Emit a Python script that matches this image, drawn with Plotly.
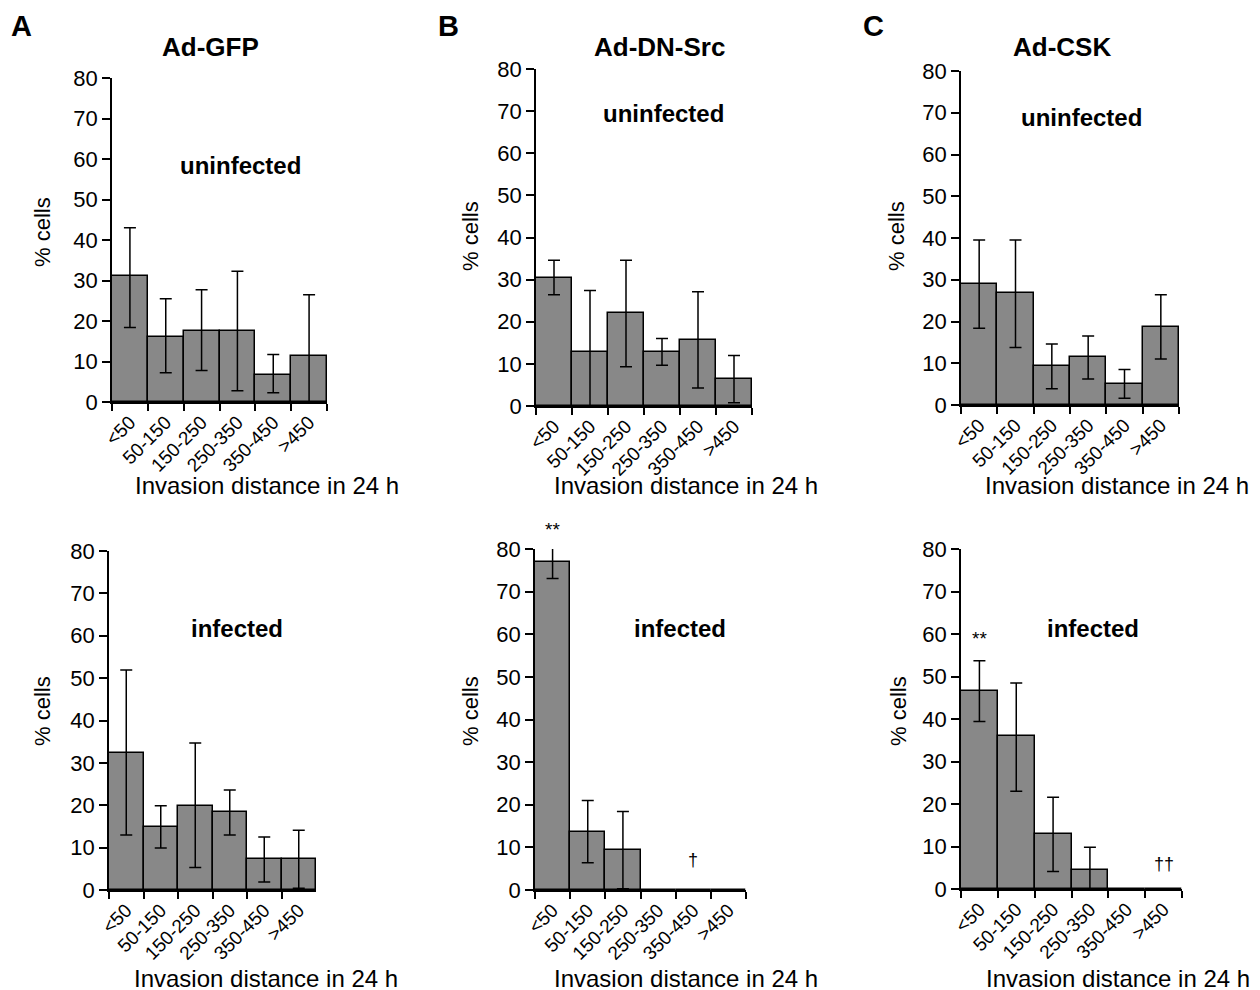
import plotly.graph_objects as go

W, H = 1260, 990
OFF = 8  # page body margin offset
categories = ["<50", "50-150", "150-250", "250-350", "350-450", ">450"]

# Ad-GFP
gfp_uninf = [31.0, 16.1, 17.5, 17.5, 6.7, 11.3]
gfp_uninf_hi = [43.0, 25.5, 27.7, 32.3, 11.7, 26.5]
gfp_uninf_lo = [18.4, 7.2, 7.8, 2.8, 2.3, 0.0]
gfp_inf = [32.4, 14.8, 19.9, 18.3, 7.2, 7.2]
gfp_inf_hi = [51.9, 19.9, 34.7, 23.6, 12.5, 14.1]
gfp_inf_lo = [13.0, 9.9, 5.3, 13.0, 1.9, 0.4]

# Ad-DN-Src
src_uninf = [30.3, 12.9, 22.1, 12.9, 15.7, 6.4]
src_uninf_hi = [34.6, 27.4, 34.6, 16.0, 27.1, 12.0]
src_uninf_lo = [26.4, 0.0, 9.3, 9.7, 4.3, 0.8]
src_inf = [77.0, 13.5, 9.4, 0.0, 0.0, 0.0]
src_inf_hi = [80.2, 21.0, 18.4, None, None, None]
src_inf_lo = [73.1, 6.4, 0.3, None, None, None]

# Ad-CSK
csk_uninf = [29.1, 26.8, 9.3, 11.5, 5.0, 18.8]
csk_uninf_hi = [39.5, 39.5, 14.6, 16.5, 8.5, 26.4]
csk_uninf_lo = [18.4, 13.8, 3.9, 6.2, 1.6, 11.0]
csk_inf = [46.5, 36.0, 12.9, 4.5, 0.0, 0.0]
csk_inf_hi = [53.7, 48.5, 21.6, 9.8, None, None]
csk_inf_lo = [39.4, 23.0, 4.1, 0.0, None, None]

y_ticks = [0, 10, 20, 30, 40, 50, 60, 70, 80]

panels = [
    dict(v=gfp_uninf, hi=gfp_uninf_hi, lo=gfp_uninf_lo, box=(112, 327, 78, 402),
         lab="uninfected", lp=(240, 165), yt=(42, 232), xt=(267, 485)),
    dict(v=src_uninf, hi=src_uninf_hi, lo=src_uninf_lo, box=(536, 752, 69, 406),
         lab="uninfected", lp=(663, 113), yt=(470, 236), xt=(686, 485)),
    dict(v=csk_uninf, hi=csk_uninf_hi, lo=csk_uninf_lo, box=(961, 1179, 71, 405),
         lab="uninfected", lp=(1081, 117), yt=(896, 236), xt=(1117, 485)),
    dict(v=gfp_inf, hi=gfp_inf_hi, lo=gfp_inf_lo, box=(109, 316, 551, 890),
         lab="infected", lp=(237, 628), yt=(42, 711), xt=(266, 978)),
    dict(v=src_inf, hi=src_inf_hi, lo=src_inf_lo, box=(535, 746, 549, 890),
         lab="infected", lp=(680, 628), yt=(470, 711), xt=(686, 978)),
    dict(v=csk_inf, hi=csk_inf_hi, lo=csk_inf_lo, box=(961, 1182, 549, 889),
         lab="infected", lp=(1093, 628), yt=(898, 711), xt=(1118, 978)),
]

FONT = "Liberation Sans, Arial, sans-serif"
fig = go.Figure()
annotations = []


def px(x):
    return (x - OFF) / W


def py(y):
    return 1 - (y - OFF) / H


def ann(text, x, y, size, **kw):
    d = dict(text=text, x=x, y=y, xref="paper", yref="paper", showarrow=False,
             xanchor="center", yanchor="middle",
             font=dict(family=FONT, size=size, color="black"))
    d.update(kw)
    return d


for i, p in enumerate(panels):
    n = i + 1
    xa = "x" if n == 1 else f"x{n}"
    ya = "y" if n == 1 else f"y{n}"
    plus = [None if h is None else h - v for h, v in zip(p["hi"], p["v"])]
    minus = [None if l is None else v - l for l, v in zip(p["lo"], p["v"])]
    fig.add_trace(go.Bar(
        x=categories, y=p["v"], xaxis=xa, yaxis=ya,
        marker=dict(color="#888888", line=dict(color="black", width=1.5)),
        error_y=dict(type="data", symmetric=False, array=plus, arrayminus=minus,
                     color="black", thickness=1.5, width=6),
        showlegend=False, cliponaxis=False,
    ))
    x0, x1, y0, y1 = p["box"]
    fig.layout[f"xaxis{'' if n == 1 else n}"] = dict(
        domain=[px(x0), px(x1)], anchor=ya, type="category", automargin=False,
        range=[-0.5, 5.5], showline=True, linecolor="black", linewidth=1.5,
        ticks="outside", tickson="boundaries", ticklen=7, tickcolor="black", tickwidth=1.5,
        tickangle=-45, tickfont=dict(family=FONT, size=19, color="black"),
        showgrid=False, zeroline=False, fixedrange=True,
    )
    fig.layout[f"yaxis{'' if n == 1 else n}"] = dict(
        domain=[py(y1), py(y0)], anchor=xa, range=[0, 80], tickvals=y_ticks, automargin=False,
        showline=True, linecolor="black", linewidth=1.5,
        ticks="outside", ticklen=8, tickcolor="black", tickwidth=1.5,
        tickfont=dict(family=FONT, size=22, color="black"),
        showgrid=False, zeroline=False, fixedrange=True,
    )
    annotations.append(ann(f"<b>{p['lab']}</b>", px(p["lp"][0]), py(p["lp"][1]), 24))
    annotations.append(ann("% cells", px(p["yt"][0]), py(p["yt"][1]), 22, textangle=-90))
    annotations.append(ann("Invasion distance in 24 h", px(p["xt"][0]), py(p["xt"][1]), 24))

# significance markers
sig = [("**", "x5", "y5", categories[0], 84.5, 19),
       ("†", "x5", "y5", categories[4], 7.0, 18),
       ("**", "x6", "y6", categories[0], 59.0, 19),
       ("††", "x6", "y6", categories[5], 6.0, 18)]
for text, xr, yr, xc, yv, sz in sig:
    annotations.append(dict(text=text, x=xc, y=yv / 80.0, xref=xr, yref=f"{yr} domain",
                            showarrow=False, xanchor="center", yanchor="middle",
                            font=dict(family=FONT, size=sz, color="black")))

# panel letters and titles
for letter, lx, title, tx in [("A", 21, "Ad-GFP", 210), ("B", 448, "Ad-DN-Src", 659),
                              ("C", 873, "Ad-CSK", 1062)]:
    annotations.append(ann(f"<b>{letter}</b>", px(lx), py(26), 29))
    annotations.append(ann(f"<b>{title}</b>", px(tx), py(47), 26))

fig.update_layout(
    template="none",
    width=W, height=H, margin=dict(l=0, r=0, t=0, b=0, autoexpand=False),
    paper_bgcolor="white", plot_bgcolor="white",
    bargap=0, annotations=annotations,
    font=dict(family=FONT, color="black"),
)

fig.write_html("out.html")
